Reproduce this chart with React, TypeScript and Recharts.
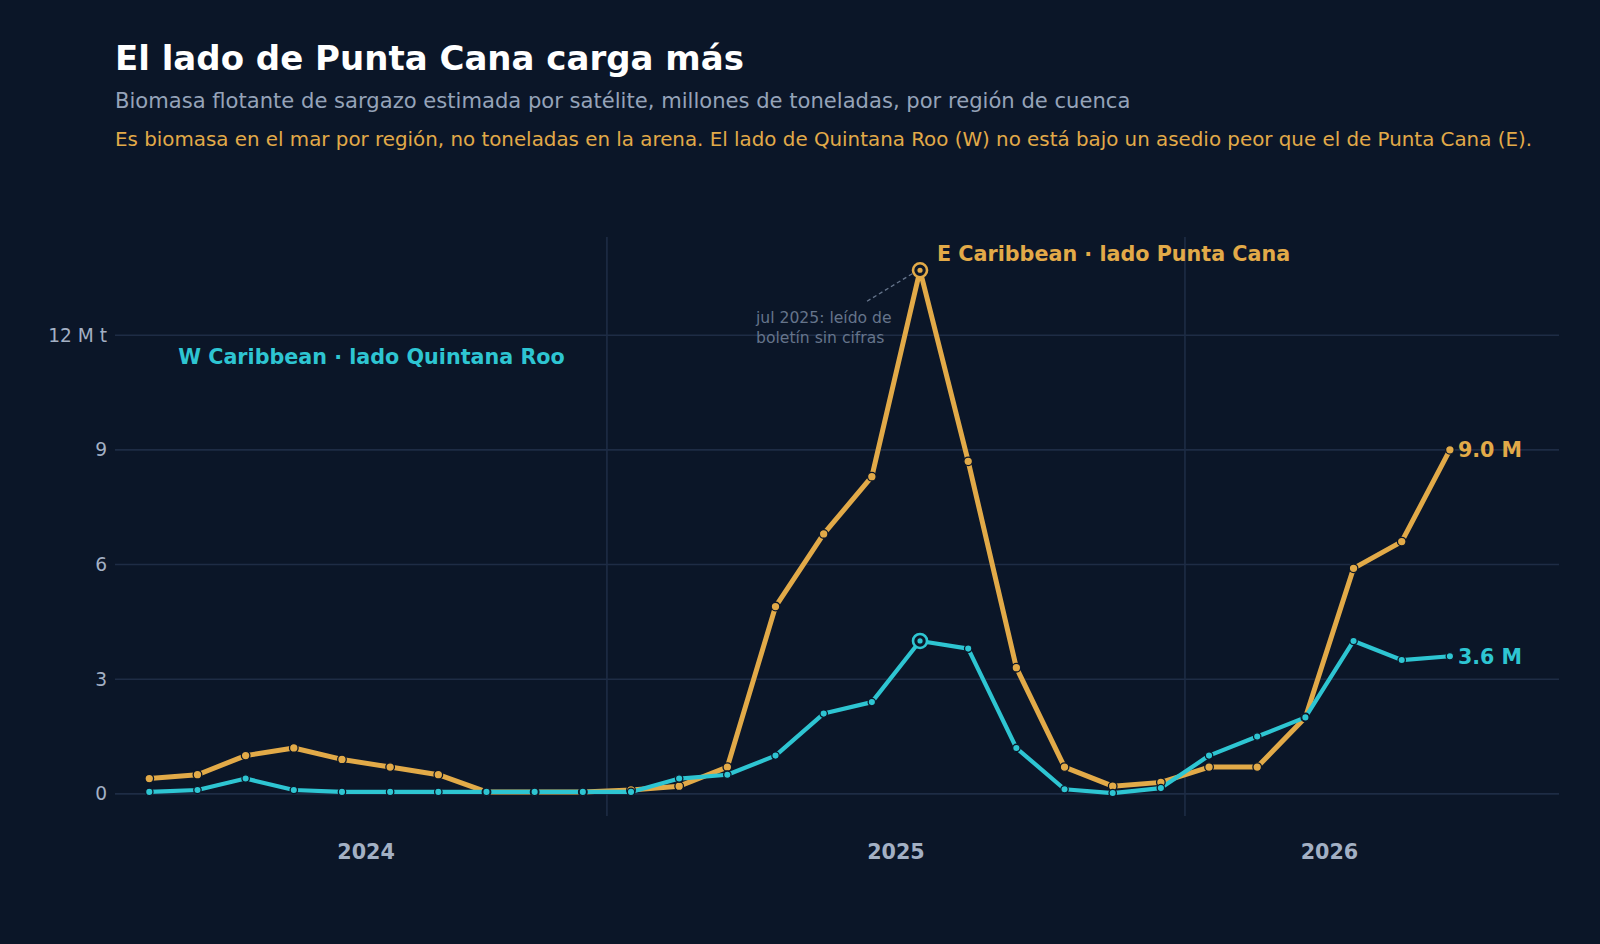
import {
  LabelList,
  Line,
  LineChart,
  ReferenceDot,
  ReferenceLine,
  XAxis,
  YAxis,
} from 'recharts';

// Monthly satellite estimate of floating sargassum, million tonnes
const months = [
  'mar 2024', 'abr 2024', 'may 2024', 'jun 2024', 'jul 2024', 'ago 2024', 'sep 2024',
  'oct 2024', 'nov 2024', 'dic 2024', 'ene 2025', 'feb 2025', 'mar 2025', 'abr 2025',
  'may 2025', 'jun 2025', 'jul 2025', 'ago 2025', 'sep 2025', 'oct 2025', 'nov 2025',
  'dic 2025', 'ene 2026', 'feb 2026', 'mar 2026', 'abr 2026', 'may 2026', 'jun 2026',
];

const eastCaribbean = [
  0.4, 0.5, 1.0, 1.2, 0.9, 0.7, 0.5, 0.05, 0.05, 0.05, 0.1, 0.2, 0.7, 4.9,
  6.8, 8.3, 13.7, 8.7, 3.3, 0.7, 0.2, 0.3, 0.7, 0.7, 2.0, 5.9, 6.6, 9.0,
];

const westCaribbean = [
  0.05, 0.1, 0.4, 0.1, 0.05, 0.05, 0.05, 0.05, 0.05, 0.05, 0.05, 0.4, 0.5, 1.0,
  2.1, 2.4, 4.0, 3.8, 1.2, 0.12, 0.02, 0.15, 1.0, 1.5, 2.0, 4.0, 3.5, 3.6,
];

const valueTicks = [0, 3, 6, 9, 12];
const yearLabels = ['2024', '2025', '2026'];
const yearLabelPositions = [4.5, 15.5, 24.5];
const yearBoundaries = [9.5, 21.5];

const data = months.map((month, i) => ({
  i,
  month,
  east: eastCaribbean[i],
  west: westCaribbean[i],
}));

const peakIndex = months.indexOf('jul 2025');
const lastIndex = months.length - 1;

const BG = '#0b1628';
const GRID = '#1e2c45';
const ORANGE = '#e2aa48';
const CYAN = '#2ec5d2';
const MUTED = '#a3b0c4';
const NOTE = '#65748b';
const FONT = '"DejaVu Sans", sans-serif';

const makeDot = (color: string, r: number) => (props: any) => {
  const { cx, cy, index } = props;
  if (cx == null || cy == null) return <g key={`d-${index}`} />;
  if (index === peakIndex) {
    return (
      <g key={`d-${index}`}>
        <circle cx={cx} cy={cy} r={7} fill={BG} stroke={color} strokeWidth={2.6} />
        <circle cx={cx} cy={cy} r={3.2} fill={color} stroke={BG} strokeWidth={1.2} />
      </g>
    );
  }
  return <circle key={`d-${index}`} cx={cx} cy={cy} r={r} fill={color} stroke={BG} strokeWidth={1.3} />;
};

const endLabel = (color: string) => (props: any) => {
  const { x, y, value, index } = props;
  if (index !== lastIndex) return null;
  return (
    <text x={x + 8} y={y} dy="0.36em" fill={color} fontSize={20.6} fontWeight="bold" fontFamily={FONT}>
      {`${Number(value).toFixed(1)} M`}
    </text>
  );
};

// Series name + note around the July 2025 peak
const peakNotes = (props: any) => {
  const { viewBox } = props;
  const cx = viewBox.x + viewBox.width / 2;
  const cy = viewBox.y + viewBox.height / 2;
  return (
    <g fontFamily={FONT}>
      <line x1={cx - 53} y1={cy + 31} x2={cx - 7} y2={cy + 3} stroke={NOTE} strokeWidth={1.3} strokeDasharray="4 3" />
      <text x={cx + 17} y={cy - 17} dy="0.36em" fill={ORANGE} fontSize={20.7} fontWeight="bold">
        E Caribbean · lado Punta Cana
      </text>
      <text x={cx - 164} y={cy + 47} dy="0.36em" fill={NOTE} fontSize={15.6}>
        jul 2025: leído de
      </text>
      <text x={cx - 164} y={cy + 67} dy="0.36em" fill={NOTE} fontSize={15.6}>
        boletín sin cifras
      </text>
    </g>
  );
};

const westName = (props: any) => {
  const { viewBox } = props;
  return (
    <text x={viewBox.x} y={viewBox.y} dy="0.36em" fill={CYAN} fontSize={20.7} fontWeight="bold" fontFamily={FONT}>
      W Caribbean · lado Quintana Roo
    </text>
  );
};

export default function App() {
  return (
    <div
      style={{
        position: 'absolute',
        left: 0,
        top: 0,
        width: 1600,
        height: 944,
        background: BG,
        fontFamily: FONT,
        overflow: 'hidden',
      }}
    >
      <div style={{ position: 'absolute', left: 115, top: 41, fontSize: 34, lineHeight: 1, fontWeight: 'bold', color: '#ffffff' }}>
        El lado de Punta Cana carga más
      </div>
      <div style={{ position: 'absolute', left: 115, top: 90, fontSize: 21.1, lineHeight: 1, color: '#95a3b9' }}>
        Biomasa flotante de sargazo estimada por satélite, millones de toneladas, por región de cuenca
      </div>
      <div style={{ position: 'absolute', left: 115, top: 130, fontSize: 19.85, lineHeight: 1, color: ORANGE }}>
        Es biomasa en el mar por región, no toneladas en la arena. El lado de Quintana Roo (W) no está bajo un asedio peor que el de Punta Cana (E).
      </div>

      <div style={{ position: 'absolute', left: 0, top: 0 }}>
        <LineChart width={1600} height={944} data={data} margin={{ top: 237, right: 41, bottom: 68, left: 0 }}>
          <XAxis
            dataKey="i"
            type="number"
            domain={[-0.712, 29.265]}
            allowDataOverflow
            ticks={yearLabelPositions}
            tickFormatter={(v: number) => yearLabels[yearLabelPositions.indexOf(v)] ?? ''}
            axisLine={false}
            tickLine={false}
            height={60}
            tickMargin={22}
            tick={{ fill: MUTED, fontSize: 20.7, fontWeight: 'bold', fontFamily: FONT }}
          />
          <YAxis
            type="number"
            domain={[-0.58, 14.57]}
            allowDataOverflow
            ticks={valueTicks}
            tickFormatter={(v: number) => (v === 12 ? '12 M t' : `${v}`)}
            axisLine={false}
            tickLine={false}
            width={115}
            tick={{ fill: MUTED, fontSize: 18.6, fontFamily: FONT }}
          />
          {valueTicks.map((y) => (
            <ReferenceLine key={`h-${y}`} y={y} stroke={GRID} strokeWidth={1.6} />
          ))}
          {yearBoundaries.map((x) => (
            <ReferenceLine key={`v-${x}`} x={x} stroke={GRID} strokeWidth={1.6} />
          ))}
          <Line
            dataKey="east"
            stroke={ORANGE}
            strokeWidth={5}
            strokeLinejoin="round"
            dot={makeDot(ORANGE, 4.3)}
            activeDot={false}
            isAnimationActive={false}
          >
            <LabelList dataKey="east" content={endLabel(ORANGE)} />
          </Line>
          <Line
            dataKey="west"
            stroke={CYAN}
            strokeWidth={4.2}
            strokeLinejoin="round"
            dot={makeDot(CYAN, 3.7)}
            activeDot={false}
            isAnimationActive={false}
          >
            <LabelList dataKey="west" content={endLabel(CYAN)} />
          </Line>
          <ReferenceDot x={peakIndex} y={eastCaribbean[peakIndex]} r={0} fill="none" stroke="none" label={{ content: peakNotes }} />
          <ReferenceDot x={0.6} y={11.43} r={0} fill="none" stroke="none" label={{ content: westName }} />
        </LineChart>
      </div>
    </div>
  );
}
